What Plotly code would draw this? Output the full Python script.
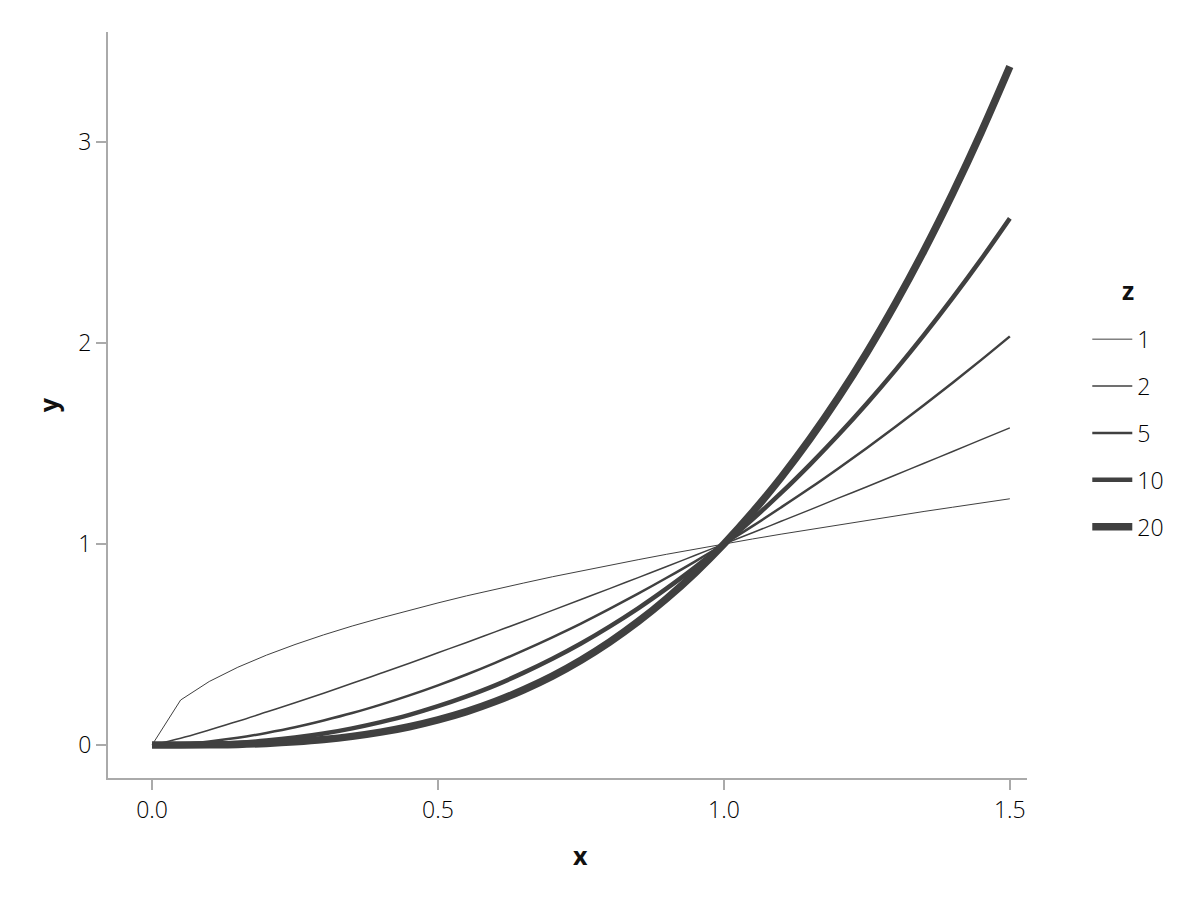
import plotly.graph_objects as go

# x grid shared by every curve
x_vals = [0.0, 0.05, 0.1, 0.15, 0.2, 0.25, 0.3, 0.35, 0.4, 0.45, 0.5,
          0.55, 0.6, 0.65, 0.7, 0.75, 0.8, 0.85, 0.9, 0.95, 1.0,
          1.05, 1.1, 1.15, 1.2, 1.25, 1.3, 1.35, 1.4, 1.45, 1.5]

z_labels = ["1", "2", "5", "10", "20"]

y_z1 = [0.0, 0.224, 0.316, 0.387, 0.447, 0.5, 0.548, 0.592, 0.632, 0.671, 0.707,
        0.742, 0.775, 0.806, 0.837, 0.866, 0.894, 0.922, 0.949, 0.975, 1.0,
        1.025, 1.049, 1.072, 1.095, 1.118, 1.14, 1.162, 1.183, 1.204, 1.225]
y_z2 = [0.0, 0.034, 0.075, 0.118, 0.164, 0.21, 0.258, 0.307, 0.357, 0.407, 0.459,
        0.51, 0.563, 0.616, 0.67, 0.724, 0.778, 0.833, 0.888, 0.944, 1.0,
        1.056, 1.113, 1.17, 1.228, 1.285, 1.343, 1.402, 1.46, 1.519, 1.578]
y_z5 = [0.0, 0.005, 0.018, 0.036, 0.06, 0.088, 0.122, 0.159, 0.201, 0.247, 0.297,
        0.351, 0.409, 0.471, 0.536, 0.604, 0.677, 0.753, 0.832, 0.914, 1.0,
        1.089, 1.182, 1.277, 1.376, 1.478, 1.583, 1.691, 1.802, 1.916, 2.033]
y_z10 = [0.0, 0.001, 0.004, 0.011, 0.022, 0.037, 0.057, 0.083, 0.114, 0.15, 0.193,
         0.242, 0.297, 0.36, 0.429, 0.505, 0.589, 0.68, 0.779, 0.885, 1.0,
         1.123, 1.254, 1.394, 1.542, 1.699, 1.865, 2.04, 2.224, 2.417, 2.62]
y_z20 = [0.0, 0.0001, 0.001, 0.003, 0.008, 0.016, 0.027, 0.043, 0.064, 0.091, 0.125,
         0.166, 0.216, 0.275, 0.343, 0.422, 0.512, 0.614, 0.729, 0.857, 1.0,
         1.158, 1.331, 1.521, 1.728, 1.953, 2.197, 2.46, 2.744, 3.049, 3.375]

series = [y_z1, y_z2, y_z5, y_z10, y_z20]
widths = [1, 1.5, 2.5, 4.5, 7.5]

fig = go.Figure()
for i, (lab, ys, w) in enumerate(zip(z_labels, series, widths)):
    # z=1 keeps its straight first segment, the rest are smooth curves
    shape = "linear" if i == 0 else "spline"
    fig.add_trace(go.Scatter(x=x_vals, y=ys, mode="lines", name=lab,
                             legendgroup=lab,
                             line=dict(color="#404040", width=w, shape=shape)))

tick_font = dict(family="Open Sans", size=23, color="#000", weight=300)
title_font = dict(family="Open Sans", size=25, color="#111", weight="bold")

axis_style = dict(showgrid=False, zeroline=False, showline=True,
                  linecolor="#aaaaaa", linewidth=2, ticks="outside",
                  ticklen=10, tickwidth=2, tickcolor="#aaaaaa",
                  tickfont=tick_font)

# axis titles sit at the middle of the data, not of the axis
fig.add_annotation(text="x", xref="x", x=0.75, yref="paper", y=0, yshift=-77,
                   showarrow=False, yanchor="middle", font=title_font)
fig.add_annotation(text="y", xref="paper", x=0, xshift=-60, yref="y", y=1.69,
                   showarrow=False, xanchor="center", textangle=-90, font=title_font)
fig.add_annotation(text="z", xref="paper", x=1.0, xshift=101, yref="paper", y=0.654,
                   showarrow=False, xanchor="center", yanchor="middle",
                   font=title_font)

# page body has an 8px margin, so the margins are shifted by 8px
fig.update_layout(
    width=1200, height=900,
    paper_bgcolor="white", plot_bgcolor="white",
    margin=dict(l=100, r=181, t=24, b=130),
    font=dict(family="Open Sans", color="#111"),
    xaxis=dict(range=[-0.077, 1.53], tickvals=[0, 0.5, 1.0, 1.5],
               ticktext=["0.0", "0.5", "1.0", "1.5"], **axis_style),
    yaxis=dict(range=[-0.164, 3.547], tickvals=[0, 1, 2, 3], **axis_style),
    legend=dict(x=1.0656, y=0.617, xanchor="left", yanchor="top",
                font=tick_font, tracegroupgap=14, itemwidth=40),
)

fig.write_html("out.html")
